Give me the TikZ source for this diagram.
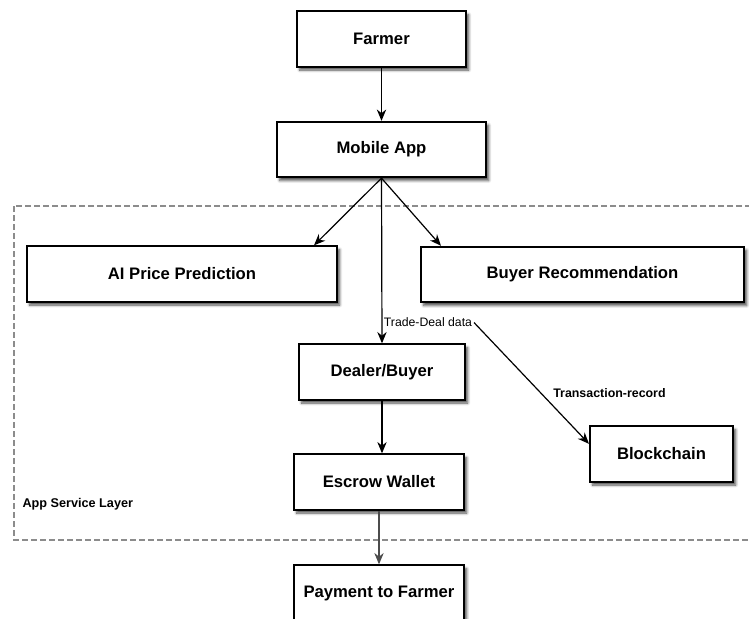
\documentclass[tikz,border=0pt]{standalone}
\usepackage{fontspec}
\setmainfont{Liberation Sans}
\usetikzlibrary{arrows.meta,calc,shadows.blur}

\tikzset{every picture/.style={line width=0.75pt}}
\tikzset{
  block/.style={draw, line width=1.5pt, fill=white, inner sep=0pt,
    minimum height=41.5pt, font=\fontsize{12.5}{15}\selectfont\bfseries,
    blur shadow={shadow xshift=2pt, shadow yshift=-2.5pt, shadow opacity=70, shadow blur steps=5, shadow blur radius=2pt}},
  flow/.style={-{Stealth[length=8.5pt,width=7pt]}, line width=0.9pt},
  edgetext/.style={inner sep=1pt, font=\fontsize{9.2}{11}\selectfont},
  layerbox/.style={draw=black!45, line width=1.1pt, dash pattern=on 4.5pt off 2.25pt},
}

\begin{document}
\begin{tikzpicture}[x=0.75pt,y=0.75pt,yscale=-1,xscale=1]
    \useasboundingbox (0,0) rectangle (749,618);

    %Dashed Container
    \draw [layerbox] (14,206) rectangle (800,540) ;
    % Text Node
    \node (layerlabel) [anchor=west, inner sep=0pt, font=\fontsize{9.5}{11}\selectfont\bfseries] at (22,504) {App Service Layer};

    %Boxes
    \node (farmer) [block, minimum width=126.75pt] at (381.5,39) {Farmer};
    \node (mobile) [block, minimum width=156.75pt] at (381.5,149.5) {Mobile App};
    \node (ai) [block, minimum width=232.5pt] at (182,274) {AI Price Prediction};
    \node (buyer) [block, minimum width=242.25pt] at (582.5,274.5) {Buyer Recommendation};
    \node (dealer) [block, minimum width=124.5pt] at (382,372) {Dealer/Buyer};
    \node (escrow) [block, minimum width=127.5pt] at (379,482) {Escrow Wallet};
    \node (blockchain) [block, minimum width=107.25pt] at (661.5,454) {Blockchain};
    \node (payment) [block, minimum width=127.5pt] at (379,593) {Payment to Farmer};

    %Connectors
    \draw [flow] (farmer) -- (mobile) ;
    \draw [flow] (mobile.south) -- ($(ai.north east)+(-24,0)$) ;
    \draw [flow] (mobile.south) -- ($(buyer.north west)+(21,0)$) ;
    \draw [flow] (mobile.south) -- node [pos=0.874, anchor=west, edgetext] (tradedata) {Trade-Deal data} (dealer.north) ;
    \draw [flow] (tradedata.east) -- node [pos=0.58, anchor=west, edgetext, xshift=8pt, font=\fontsize{9.3}{11}\selectfont\bfseries] (txrecord) {Transaction-record} (blockchain.172) ;
    \draw [flow] (dealer.south) -- (dealer.south |- escrow.north) ;
    \draw [flow, draw=black!70] (escrow) -- (payment) ;

\end{tikzpicture}
\end{document}
